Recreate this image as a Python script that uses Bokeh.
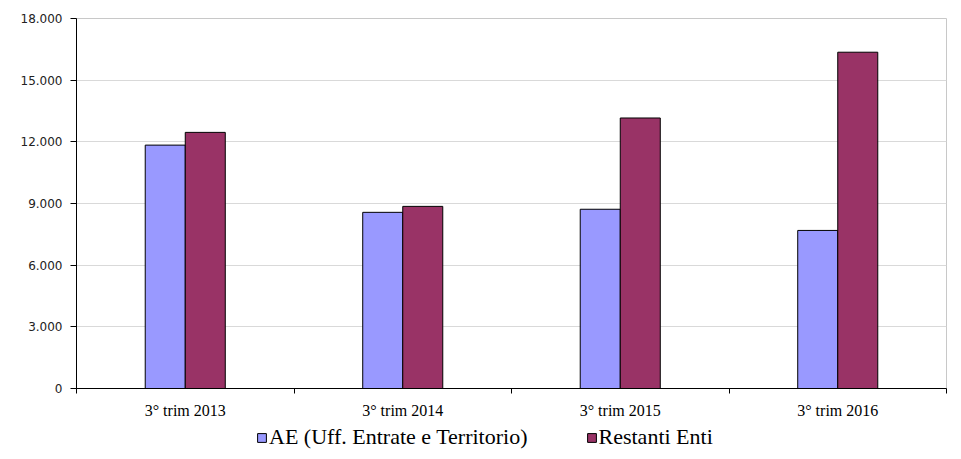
from bokeh.plotting import figure
from bokeh.layouts import column
from bokeh.models import FixedTicker, Range1d, Legend, LegendItem, ColumnDataSource
from bokeh.embed import file_html
from bokeh.resources import INLINE

categories = ["3° trim 2013", "3° trim 2014", "3° trim 2015", "3° trim 2016"]
ae_values = [11840, 8570, 8720, 7690]
restanti_values = [12460, 8860, 13160, 16360]
series_names = ["AE (Uff. Entrate e Territorio)", "Restanti Enti"]
series_colors = ["#9999FF", "#993366"]
y_ticks = [0, 3000, 6000, 9000, 12000, 15000, 18000]

bar_w = 0.184
centers = [i + 0.5 for i in range(len(categories))]

src = ColumnDataSource(dict(
    x_ae=[c - bar_w / 2 for c in centers],
    x_re=[c + bar_w / 2 for c in centers],
    ae=ae_values,
    re=restanti_values,
))

p = figure(width=961, height=421, output_backend="svg", toolbar_location=None,
           x_range=Range1d(0, len(categories)), y_range=Range1d(0, 18000),
           min_border_left=76, min_border_right=15, min_border_top=18, min_border_bottom=33)

p.vbar(x="x_ae", top="ae", width=bar_w, source=src, fill_color=series_colors[0], line_color="black", line_width=1)
p.vbar(x="x_re", top="re", width=bar_w, source=src, fill_color=series_colors[1], line_color="black", line_width=1)

p.outline_line_color = "#c8c8c8"
p.xgrid.grid_line_color = None
p.ygrid.grid_line_color = "#d9d9d9"
p.ygrid.ticker = FixedTicker(ticks=y_ticks)

# y axis
p.yaxis.ticker = FixedTicker(ticks=y_ticks)
p.yaxis.major_label_overrides = {t: f"{t:,}".replace(",", ".") for t in y_ticks}
p.yaxis.axis_line_color = "black"
p.yaxis.major_tick_line_color = "black"
p.yaxis.major_tick_out = 6
p.yaxis.major_tick_in = 0
p.yaxis.minor_tick_line_color = None
p.yaxis.major_label_text_font = "DejaVu Sans"
p.yaxis.major_label_text_font_size = "12px"
p.yaxis.major_label_text_color = "#222222"
p.yaxis.major_label_standoff = 8

# x axis: labels at centers, tick marks at category boundaries
p.xaxis.ticker = FixedTicker(ticks=centers, minor_ticks=list(range(len(categories) + 1)))
p.xaxis.major_label_overrides = {c: lab for c, lab in zip(centers, categories)}
p.xaxis.axis_line_color = "black"
p.xaxis.major_tick_line_color = None
p.xaxis.minor_tick_line_color = "black"
p.xaxis.minor_tick_out = 5
p.xaxis.minor_tick_in = 0
p.xaxis.major_label_text_font = "Liberation Serif"
p.xaxis.major_label_text_font_size = "16px"
p.xaxis.major_label_text_color = "black"
p.xaxis.major_label_standoff = 7

# legend strip below the chart
p2 = figure(width=961, height=38, output_backend="svg", toolbar_location=None,
            x_range=Range1d(0, 1), y_range=Range1d(0, 1), min_border=0)
p2.axis.visible = False
p2.grid.grid_line_color = None
p2.outline_line_color = None
l1 = p2.vbar(x=[0.5], top=[-5], bottom=[-6], width=0.1, fill_color=series_colors[0], line_color="black")
l2 = p2.vbar(x=[0.5], top=[-5], bottom=[-6], width=0.1, fill_color=series_colors[1], line_color="black")

legend = Legend(items=[LegendItem(label=series_names[0], renderers=[l1]),
                       LegendItem(label=series_names[1], renderers=[l2])],
                orientation="horizontal", location=(180, 9),
                border_line_color=None, background_fill_alpha=0,
                label_text_font="Liberation Serif", label_text_font_size="22px",
                label_text_color="black",
                glyph_width=11, glyph_height=11, label_standoff=2, spacing=58,
                padding=4, margin=0)
p2.add_layout(legend, "center")

open("out.html", "w").write(file_html(column(p, p2, spacing=0), INLINE))
